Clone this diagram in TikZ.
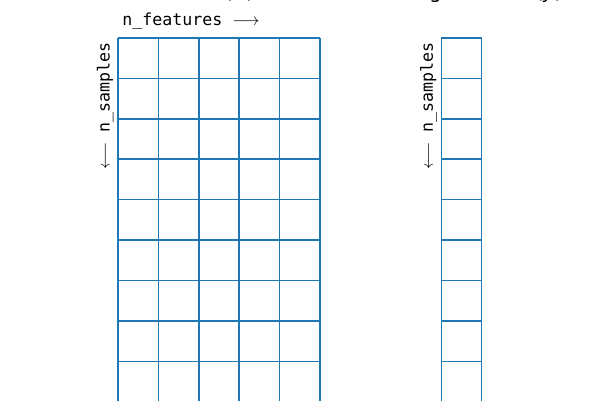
\documentclass[tikz,border=0pt]{standalone}
\usepackage{fontspec}
\setmainfont{DejaVu Sans}
\setmonofont{DejaVu Sans Mono}
\usepackage{amsmath}
\definecolor{mplBlue}{HTML}{1F77B4}
\usetikzlibrary{positioning}

\begin{document}
\begin{tikzpicture}[
  gridlines/.style={draw=mplBlue, line width=1pt},
  axislabel/.style={font=\fontsize{11.7}{14}\selectfont\ttfamily, inner sep=0pt},
  heading/.style={font=\fontsize{13.7}{16}\selectfont, inner sep=0pt, anchor=base west},
]
  \useasboundingbox (-2.92,0.94) rectangle (11.93,-8.96);

  % titles (cut by the page edge)
  \node[heading] (xtitle) at (-1,0.98) {Feature Matrix (\textit{X})};
  \node[heading] (ytitle) at (7,0.98) {Target Vector (\textit{y})};

  % features matrix
  \draw[gridlines] (0,-9) grid (5,0);
  \node[axislabel, anchor=base west] (featlabel) at (0.1,0.3)
    {n\_features $\longrightarrow$};
  \node[axislabel, rotate=90, anchor=south east] (samplabel) at (-0.1,-0.1)
    {$\longleftarrow$ n\_samples};

  % target vector
  \draw[gridlines] (8,-9) grid (9,0);
  \node[axislabel, rotate=90, anchor=south east] (targlabel) at (7.9,-0.1)
    {$\longleftarrow$ n\_samples};
\end{tikzpicture}
\end{document}
